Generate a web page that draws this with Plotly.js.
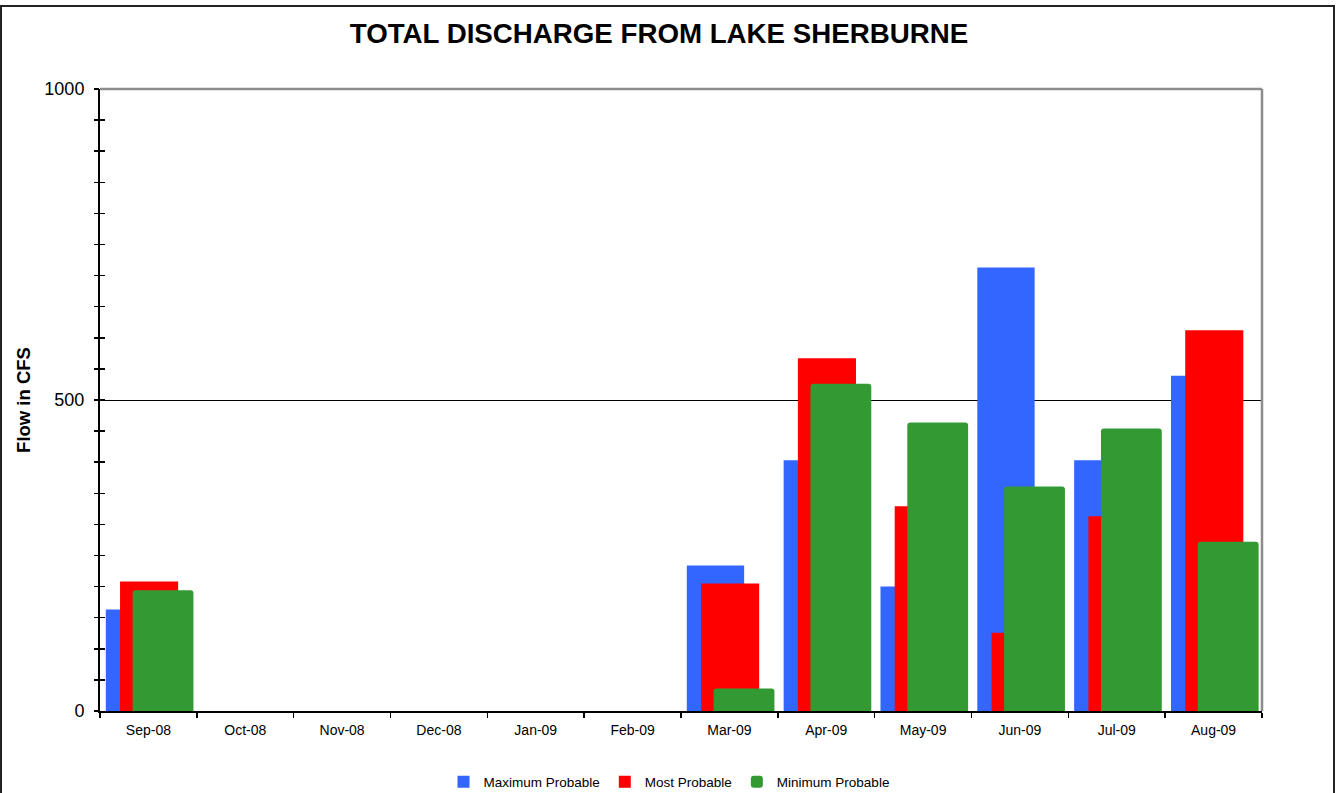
<!DOCTYPE html>
<html>
<head>
<meta charset="utf-8">
<script src="https://cdn.plot.ly/plotly-3.0.1.min.js"></script>
<style>html,body{margin:0;padding:0;background:#fff;}#chart{width:1338px;height:793px;}</style>
</head>
<body>
<div id="chart"></div>
<script>
const months = ['Sep-08','Oct-08','Nov-08','Dec-08','Jan-09','Feb-09','Mar-09','Apr-09','May-09','Jun-09','Jul-09','Aug-09'];
const maximumProbable = [163, 0, 0, 0, 0, 0, 234, 403, 200, 713, 403, 539];
const mostProbable    = [208, 0, 0, 0, 0, 0, 205, 567, 329, 126, 313, 612];
const minimumProbable = [194, 0, 0, 0, 0, 0, 36, 526, 464, 361, 454, 272];
const yTickVals = [0, 500, 1000];
const yTickText = ['0', '500', '1000'];

const FONT = 'Arial, "Liberation Sans", sans-serif';

const traces = [
  {type:'bar', name:'Maximum Probable', x:months, y:maximumProbable,
   marker:{color:'#3366FF'}, offset:-0.44, width:0.592, hoverinfo:'x+y'},
  {type:'bar', name:'Most Probable', x:months, y:mostProbable,
   marker:{color:'#FF0000'}, offset:-0.293, width:0.6, hoverinfo:'x+y'},
  {type:'bar', name:'Minimum Probable', x:months, y:minimumProbable,
   marker:{color:'#339933', cornerradius:3}, offset:-0.163, width:0.628, hoverinfo:'x+y'},
  // invisible helpers so the extra tick axes are drawn
  {type:'scatter', x:[months[0]], y:[0], yaxis:'y2', mode:'markers',
   marker:{opacity:0}, showlegend:false, hoverinfo:'skip'},
  {type:'scatter', x:[months[0]], y:[0], yaxis:'y3', mode:'markers',
   marker:{opacity:0}, showlegend:false, hoverinfo:'skip'}
];

const tickAxis = (side) => ({overlaying:'y', anchor:'x', side:'left', range:[0,1000],
  tickmode:'linear', tick0:0, dtick:50, ticks:side, ticklen:5, tickwidth:1.5, tickcolor:'#000',
  showticklabels:false, showgrid:false, showline:false, zeroline:false, fixedrange:true, automargin:false});

const layout = {
  width:1338, height:793,
  margin:{l:100, r:76, t:89, b:82},
  paper_bgcolor:'#ffffff', plot_bgcolor:'#ffffff',
  font:{family:FONT, color:'#000000'},
  barmode:'overlay',
  showlegend:true,
  title:{text:'<b>TOTAL DISCHARGE FROM LAKE SHERBURNE</b>', font:{family:FONT, size:27.7, color:'#000'},
         xref:'container', x:0.4925, xanchor:'center', yref:'container', y:0.958, yanchor:'middle'},
  xaxis:{type:'category', categoryorder:'array', categoryarray:months,
         tickson:'boundaries', ticks:'outside', ticklen:5, tickwidth:1.5, tickcolor:'#000',
         showline:true, linecolor:'#000', linewidth:2, showgrid:false, zeroline:false,
         tickfont:{family:FONT, size:14, color:'#000'}, ticklabelstandoff:5,
         range:[-0.5, 11.5], fixedrange:true, automargin:false},
  yaxis:{range:[0,1000], tickmode:'array', tickvals:yTickVals, ticktext:yTickText,
         ticks:'', showline:true, linecolor:'#000', linewidth:2,
         showgrid:true, gridcolor:'#000', gridwidth:1, zeroline:false,
         tickfont:{family:FONT, size:18, color:'#000'}, ticklabelstandoff:10,
         title:{text:'<b>Flow in CFS</b>', font:{family:FONT, size:18.5, color:'#000'}, standoff:9},
         fixedrange:true, automargin:false},
  yaxis2:tickAxis('inside'),
  yaxis3:tickAxis('outside'),
  legend:{orientation:'h', x:0.5, xref:'container', xanchor:'center', y:1-782/793, yref:'container', yanchor:'middle',
          font:{family:FONT, size:13.5, color:'#000'}, itemwidth:30, tracegroupgap:0,
          bgcolor:'rgba(0,0,0,0)'},
  shapes:[
    {type:'line', xref:'paper', yref:'paper', x0:0, x1:1, y0:1, y1:1, line:{color:'#8c8c8c', width:2.5}, layer:'above'},
    {type:'line', xref:'paper', yref:'paper', x0:1, x1:1, y0:0, y1:1, line:{color:'#8c8c8c', width:2.5}, layer:'above'},
    {type:'rect', xref:'paper', yref:'paper', x0:(1-100)/1162, x1:(1334-100)/1162, y0:-0.3, y1:(711-6)/622,
     line:{color:'#222', width:2}, fillcolor:'rgba(0,0,0,0)', layer:'above'}
  ]
};

Plotly.newPlot('chart', traces, layout, {displayModeBar:false, staticPlot:true});
</script>
</body>
</html>
